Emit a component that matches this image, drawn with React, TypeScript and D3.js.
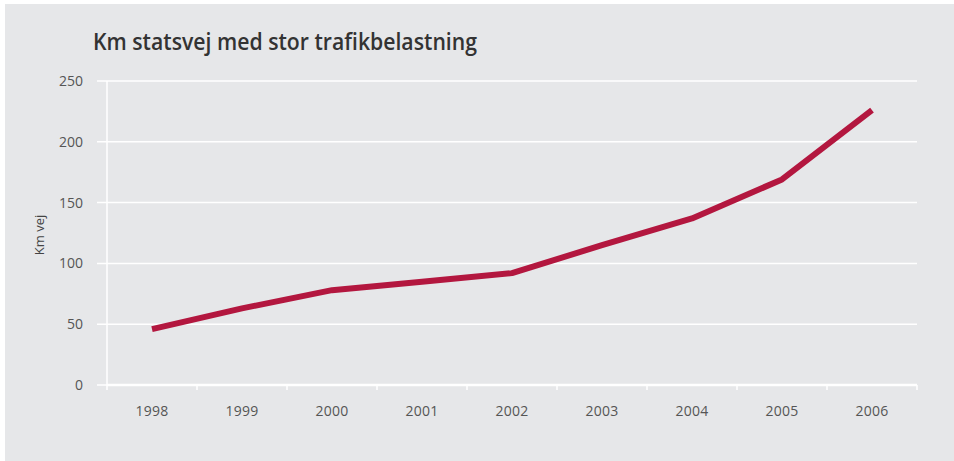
import React from 'react';
import * as d3 from 'd3';

const years = ['1998', '1999', '2000', '2001', '2002', '2003', '2004', '2005', '2006'];
const kmValues = [46, 63, 78, 85, 92, 115, 137, 169, 226];
const yTicks = [0, 50, 100, 150, 200, 250];

const title = 'Km statsvej med stor trafikbelastning';
const yLabel = 'Km vej';

const App: React.FC = () => {
  const width = 954;
  const height = 461;
  const margin = { top: 81, right: 37, bottom: 76, left: 107 };

  const x = d3.scaleBand<string>()
    .domain(years)
    .range([margin.left, width - margin.right]);

  const y = d3.scaleLinear()
    .domain([0, 250])
    .range([height - margin.bottom, margin.top]);

  const line = d3.line<number>()
    .x((_, i) => (x(years[i]) as number) + x.bandwidth() / 2)
    .y(d => y(d));

  const font = '"Open Sans", "Noto Sans", sans-serif';
  const bottom = height - margin.bottom;

  return (
    <svg width={width} height={height} style={{ position: 'absolute', left: 0, top: 0 }}>
      <rect x={0} y={0} width={width} height={height} fill="#ffffff" />
      <rect x={5} y={4} width={width - 5} height={height - 4} fill="#e6e7e9" />

      <text x={93} y={50} fontFamily={font} fontWeight={600} fontSize={23}
        fill="#333333" textLength={384} lengthAdjust="spacingAndGlyphs">{title}</text>

      {/* gridlines */}
      {yTicks.map(t => (
        <g key={t}>
          <line x1={margin.left - 10} x2={width - margin.right} y1={y(t)} y2={y(t)}
            stroke="#ffffff" strokeWidth={1.5} />
          <text x={83} y={y(t)} dy="0.35em" textAnchor="end" fontFamily={font}
            fontSize={14} fill="#555555">{t}</text>
        </g>
      ))}

      {/* axes */}
      <line x1={margin.left} x2={margin.left} y1={margin.top} y2={bottom + 5}
        stroke="#ffffff" strokeWidth={1.5} />
      <line x1={margin.left} x2={width - margin.right} y1={bottom} y2={bottom}
        stroke="#ffffff" strokeWidth={2.5} />
      {years.map(yr => (
        <g key={yr}>
          <line x1={(x(yr) as number) + x.bandwidth()} x2={(x(yr) as number) + x.bandwidth()}
            y1={bottom} y2={bottom + 5} stroke="#ffffff" strokeWidth={1.5} />
          <text x={(x(yr) as number) + x.bandwidth() / 2} y={bottom + 31} textAnchor="middle"
            fontFamily={font} fontSize={14} fill="#555555" letterSpacing={0.3}>{yr}</text>
        </g>
      ))}

      <text transform={`translate(44,${(margin.top + bottom) / 2 + 2}) rotate(-90)`}
        textAnchor="middle" fontFamily={font} fontSize={13} fill="#444444">{yLabel}</text>

      <path d={line(kmValues) ?? ''} fill="none" stroke="#b3173f" strokeWidth={6}
        strokeLinejoin="round" />
    </svg>
  );
};

export default App;
